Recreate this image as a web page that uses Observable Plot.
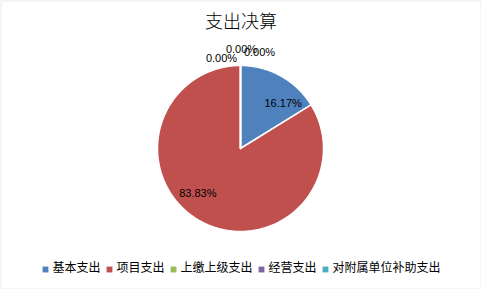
<!DOCTYPE html>
<html>
<head>
<meta charset="utf-8">
<script src="https://cdn.jsdelivr.net/npm/d3@7"></script>
<script src="https://cdn.jsdelivr.net/npm/@observablehq/plot@0.6"></script>
<style>
  html, body { margin: 0; padding: 0; background: #fff; }
  svg { display: block; }
</style>
</head>
<body>
<div id="chart"></div>
<script>
const title = "支出决算";
const names = ["基本支出", "项目支出", "上缴上级支出", "经营支出", "对附属单位补助支出"];
const values = [16.17, 83.83, 0, 0, 0];
const labels = ["16.17%", "83.83%", "0.00%", "0.00%", "0.00%"];
const colors = ["#4F81BD", "#C0504D", "#9BBB59", "#8064A2", "#4BACC6"];

const W = 481, H = 289;
const data = names.map((name, i) => ({name, value: values[i], label: labels[i]}));
const arcs = d3.pie().sort(null).value(d => d.value)(data);

// slice outlines in unit-circle coordinates
const pts = [];
arcs.forEach(a => {
  const n = Math.max(1, Math.ceil((a.endAngle - a.startAngle) / (Math.PI / 180)));
  pts.push({name: a.data.name, x: 0, y: 0});
  for (let k = 0; k <= n; k++) {
    const t = a.startAngle + (a.endAngle - a.startAngle) * k / n;
    pts.push({name: a.data.name, x: Math.sin(t), y: Math.cos(t)});
  }
  pts.push({name: a.data.name, x: 0, y: 0});
});

// label placement (Excel "best fit" style)
const zeroSpots = [[-0.229, 1.084], [0.012, 1.193], [0.229, 1.157]];
let zi = 0;
const labelPts = arcs.map(a => {
  if (a.data.value > 0) {
    const m = (a.startAngle + a.endAngle) / 2 + 14.5 * Math.PI / 180;
    return {label: a.data.label, x: 0.745 * Math.sin(m), y: 0.745 * Math.cos(m)};
  }
  const s = zeroSpots[zi++];
  return {label: a.data.label, x: s[0], y: s[1]};
});

// legend layout
const charW = 12;
const itemW = names.map(n => 10 + n.length * charW);
const totalW = itemW.reduce((s, w) => s + w, 0) + 6 * (names.length - 1);
let sx = 241 - totalW / 2;
const legendMarks = [];
names.forEach((n, i) => {
  legendMarks.push(Plot.dot([n], {frameAnchor: "top-left", dx: sx + 3, dy: 269, symbol: "square", r: 3.3, fill: colors[i], stroke: null}));
  legendMarks.push(Plot.text([n], {frameAnchor: "top-left", dx: sx + 10, dy: 268, text: d => d, textAnchor: "start", lineAnchor: "middle", fontSize: 12, fill: "#000", fontFamily: "'Noto Sans CJK SC', sans-serif"}));
  sx += itemW[i] + 6;
});

const chart = Plot.plot({
  width: W,
  height: H,
  margin: 0,
  style: {background: "#fff", fontFamily: "'Liberation Sans', Arial, sans-serif"},
  x: {domain: [-1, 1], range: [157, 323], axis: null},
  y: {domain: [-1, 1], range: [231, 65], axis: null},
  color: {domain: names, range: colors},
  marks: [
    Plot.frame({stroke: "#ececec", inset: 0.5}),
    Plot.line(pts, {x: "x", y: "y", z: "name", fill: "name", stroke: "#fff", strokeWidth: 1.5, strokeLinejoin: "round"}),
    Plot.text(labelPts, {x: "x", y: "y", text: "label", fontSize: 11, fill: "#000", lineAnchor: "middle", textAnchor: "middle"}),
    Plot.text([title], {frameAnchor: "top", dy: 21.5, text: d => d, lineAnchor: "middle", fontSize: 18, fontWeight: 300, fill: "#000", fontFamily: "'Noto Sans CJK SC', sans-serif"}),
    ...legendMarks
  ]
});
document.getElementById("chart").appendChild(chart);
</script>
</body>
</html>
